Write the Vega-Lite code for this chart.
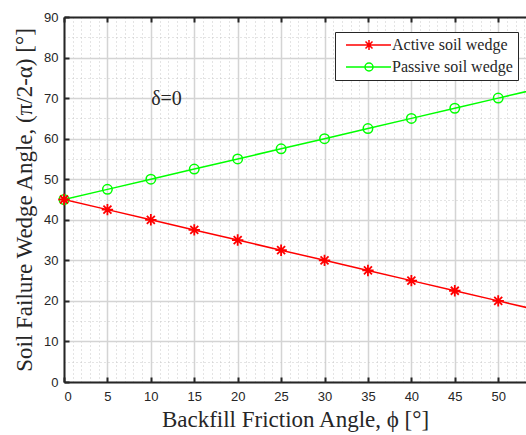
{
  "$schema": "https://vega.github.io/schema/vega-lite/v6.json",
  "width": 462,
  "height": 365,
  "autosize": "none",
  "padding": {"left": 64, "top": 17, "right": 0, "bottom": 53},
  "background": "white",
  "config": {
    "view": {"stroke": null},
    "axis": {
      "labelFont": "Liberation Sans",
      "labelFontSize": 13,
      "labelColor": "#262626",
      "titleFont": "Liberation Serif",
      "titleFontSize": 23,
      "titleFontWeight": "normal",
      "titleColor": "#262626"
    }
  },
  "resolve": {"axis": {"x": "independent", "y": "independent"}},
  "datasets": {
    "curves": [
      {"phi": 0, "angle": 45, "series": "Active soil wedge"},
      {"phi": 5, "angle": 42.5, "series": "Active soil wedge"},
      {"phi": 10, "angle": 40, "series": "Active soil wedge"},
      {"phi": 15, "angle": 37.5, "series": "Active soil wedge"},
      {"phi": 20, "angle": 35, "series": "Active soil wedge"},
      {"phi": 25, "angle": 32.5, "series": "Active soil wedge"},
      {"phi": 30, "angle": 30, "series": "Active soil wedge"},
      {"phi": 35, "angle": 27.5, "series": "Active soil wedge"},
      {"phi": 40, "angle": 25, "series": "Active soil wedge"},
      {"phi": 45, "angle": 22.5, "series": "Active soil wedge"},
      {"phi": 50, "angle": 20, "series": "Active soil wedge"},
      {"phi": 55, "angle": 17.5, "series": "Active soil wedge"},
      {"phi": 0, "angle": 45, "series": "Passive soil wedge"},
      {"phi": 5, "angle": 47.5, "series": "Passive soil wedge"},
      {"phi": 10, "angle": 50, "series": "Passive soil wedge"},
      {"phi": 15, "angle": 52.5, "series": "Passive soil wedge"},
      {"phi": 20, "angle": 55, "series": "Passive soil wedge"},
      {"phi": 25, "angle": 57.5, "series": "Passive soil wedge"},
      {"phi": 30, "angle": 60, "series": "Passive soil wedge"},
      {"phi": 35, "angle": 62.5, "series": "Passive soil wedge"},
      {"phi": 40, "angle": 65, "series": "Passive soil wedge"},
      {"phi": 45, "angle": 67.5, "series": "Passive soil wedge"},
      {"phi": 50, "angle": 70, "series": "Passive soil wedge"},
      {"phi": 55, "angle": 72.5, "series": "Passive soil wedge"}
    ],
    "notes": [{"phi": 11.8, "angle": 69.7, "label": "δ=0"}]
  },
  "layer": [
    {
      "data": {"name": "curves"},
      "transform": [{"filter": "datum.series == 'Active soil wedge'"}],
      "mark": {"type": "line", "strokeWidth": 1.5, "clip": true, "color": "#ff0000"},
      "encoding": {
        "x": {
          "field": "phi", "type": "quantitative",
          "scale": {"domain": [0, 53.2], "nice": false, "zero": false},
          "axis": {"orient": "bottom", "values": [0,1,2,3,4,5,6,7,8,9,10,11,12,13,14,15,16,17,18,19,20,21,22,23,24,25,26,27,28,29,30,31,32,33,34,35,36,37,38,39,40,41,42,43,44,45,46,47,48,49,50,51,52,53],
            "grid": true, "gridDash": [1, 3], "gridColor": "#c8c8c8", "gridWidth": 1,
            "labels": false, "ticks": false, "domain": false, "title": null}
        },
        "y": {
          "field": "angle", "type": "quantitative",
          "scale": {"domain": [0, 90], "nice": false},
          "axis": {"orient": "left", "values": [5,15,25,35,45,55,65,75,85],
            "grid": true, "gridDash": [1, 3], "gridColor": "#c8c8c8", "gridWidth": 1,
            "labels": false, "ticks": false, "domain": false, "title": null}
        }
      }
    },
    {
      "data": {"name": "curves"},
      "transform": [{"filter": "datum.series == 'Passive soil wedge'"}],
      "mark": {"type": "line", "strokeWidth": 1.5, "clip": true, "color": "#00ff00"},
      "encoding": {
        "x": {"field": "phi", "type": "quantitative", "axis": null},
        "y": {"field": "angle", "type": "quantitative", "axis": null}
      }
    },
    {
      "data": {"name": "curves"},
      "transform": [{"filter": "datum.series == 'Passive soil wedge' && datum.phi <= 50"}],
      "mark": {"type": "point", "shape": "circle", "filled": false, "size": 90, "strokeWidth": 1.5, "color": "#00ff00", "opacity": 1},
      "encoding": {
        "x": {
          "field": "phi", "type": "quantitative",
          "axis": {"orient": "bottom", "values": [0,5,10,15,20,25,30,35,40,45,50],
            "grid": true, "gridColor": "#d4d4d4", "gridWidth": 1.5,
            "ticks": false, "domain": true, "domainColor": "#262626", "domainWidth": 2,
            "labelPadding": 8, "title": "Backfill Friction Angle, ϕ [°]", "titlePadding": 5}
        },
        "y": {
          "field": "angle", "type": "quantitative",
          "axis": {"orient": "left", "values": [0,10,20,30,40,50,60,70,80,90],
            "grid": true, "gridColor": "#d4d4d4", "gridWidth": 1.5,
            "ticks": false, "domain": true, "domainColor": "#262626", "domainWidth": 2,
            "labelPadding": 6, "title": "Soil Failure Wedge Angle, (π/2-α) [°]", "titlePadding": 7}
        }
      }
    },
    {
      "data": {"name": "curves"},
      "transform": [{"filter": "datum.series == 'Active soil wedge' && datum.phi <= 50"}],
      "mark": {"type": "point", "shape": "M0,-1L0,1M-1,0L1,0M-0.7,-0.7L0.7,0.7M-0.7,0.7L0.7,-0.7", "filled": false, "size": 130, "strokeWidth": 1.8, "color": "#ff0000", "opacity": 1},
      "encoding": {
        "x": {"field": "phi", "type": "quantitative", "axis": null},
        "y": {"field": "angle", "type": "quantitative", "axis": null}
      }
    },
    {
      "data": {"name": "curves"},
      "transform": [{"filter": "datum.phi > 54"}],
      "mark": {"type": "point", "filled": false, "size": 100, "strokeWidth": 1.5, "clip": true, "opacity": 1},
      "encoding": {
        "x": {
          "field": "phi", "type": "quantitative",
          "axis": {"orient": "top", "values": [0,5,10,15,20,25,30,35,40,45,50],
            "grid": false, "labels": false, "ticks": true, "tickSize": -5, "tickColor": "#262626", "tickWidth": 2,
            "domain": true, "domainColor": "#262626", "domainWidth": 2, "title": null}
        },
        "y": {
          "field": "angle", "type": "quantitative",
          "axis": {"orient": "left", "values": [0,10,20,30,40,50,60,70,80,90],
            "grid": false, "labels": false, "ticks": true, "tickSize": -5, "tickColor": "#262626", "tickWidth": 2,
            "domain": false, "title": null}
        },
        "color": {
          "field": "series", "type": "nominal",
          "scale": {"domain": ["Active soil wedge", "Passive soil wedge"], "range": ["#ff0000", "#00ff00"]},
          "legend": {"title": null, "orient": "none", "legendX": 271, "legendY": 15,
            "fillColor": "white", "strokeColor": "#262626", "padding": 5,
            "labelFont": "Liberation Serif", "labelFontSize": 16, "labelColor": "#262626", "labelOffset": 36,
            "rowPadding": 6, "symbolSize": 100, "symbolStrokeWidth": 1.5, "labelLimit": 300}
        },
        "shape": {
          "field": "series", "type": "nominal",
          "scale": {"domain": ["Active soil wedge", "Passive soil wedge"],
            "range": [
              "M-0.4,0L8.6,0M4.2,-1L4.2,1M3.2,0L5.2,0M3.5,-0.7L4.9,0.7M3.5,0.7L4.9,-0.7",
              "M-0.4,0L8.6,0M5.0,0A0.8,0.8 0 1,1 3.4,0A0.8,0.8 0 1,1 5.0,0"
            ]},
          "legend": {"title": null, "orient": "none", "legendX": 271, "legendY": 15,
            "fillColor": "white", "strokeColor": "#262626", "padding": 5,
            "labelFont": "Liberation Serif", "labelFontSize": 16, "labelColor": "#262626", "labelOffset": 36,
            "rowPadding": 6, "symbolSize": 100, "symbolStrokeWidth": 1.5, "labelLimit": 300}
        }
      }
    },
    {
      "data": {"name": "notes"},
      "mark": {"type": "text", "font": "Liberation Serif", "fontSize": 20, "color": "#262626", "align": "center", "baseline": "middle"},
      "encoding": {
        "x": {
          "field": "phi", "type": "quantitative",
          "axis": {"orient": "bottom", "values": [0,5,10,15,20,25,30,35,40,45,50],
            "grid": false, "labels": false, "ticks": true, "tickSize": -5, "tickColor": "#262626", "tickWidth": 2,
            "domain": false, "title": null}
        },
        "y": {"field": "angle", "type": "quantitative", "axis": null},
        "text": {"field": "label"}
      }
    }
  ]
}
